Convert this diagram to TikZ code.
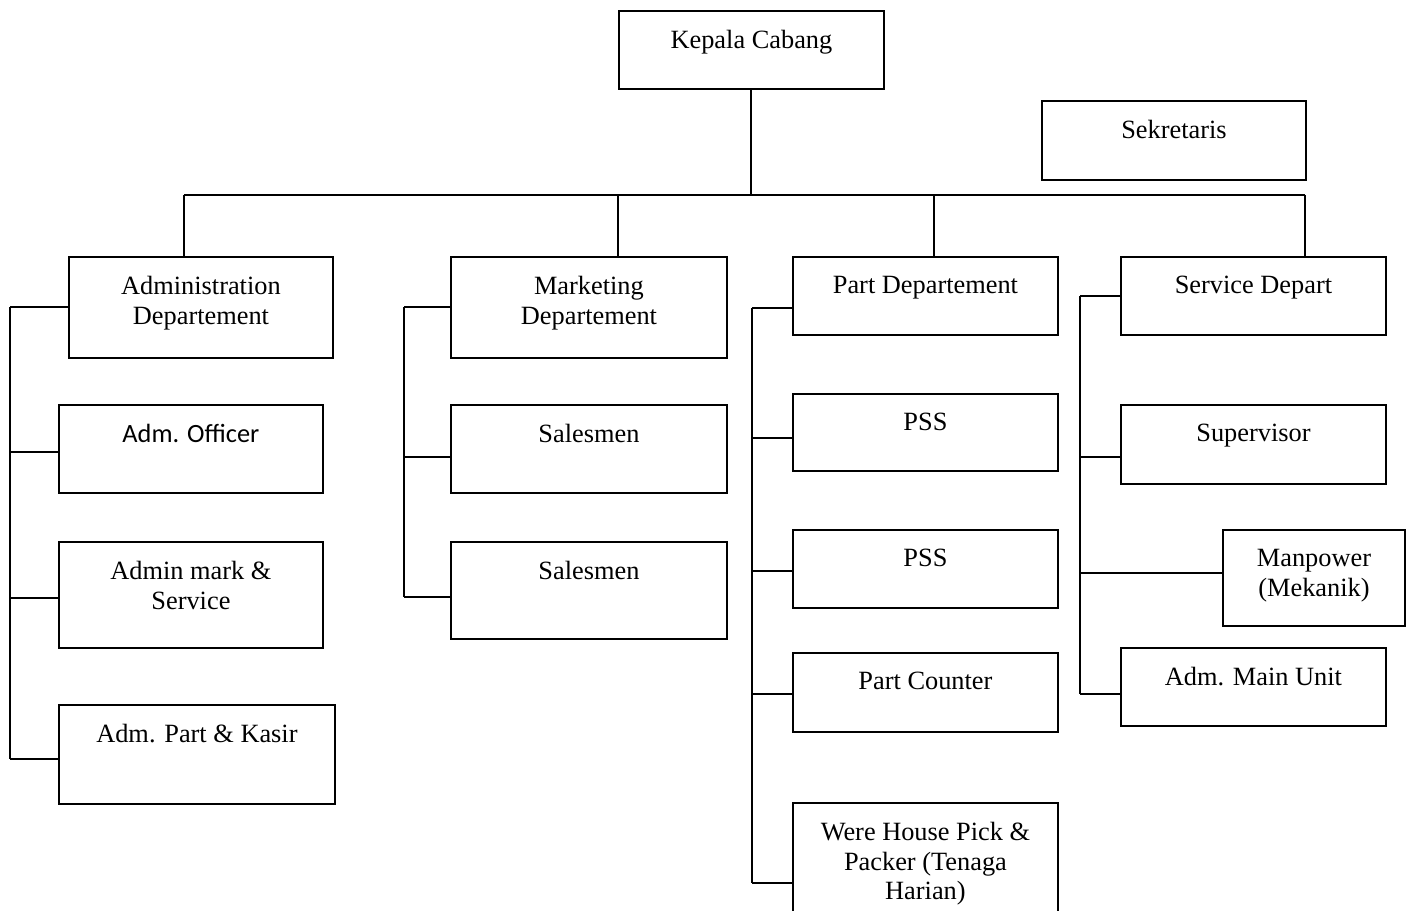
\documentclass[tikz,border=0pt]{standalone}
\usepackage{fontspec}
\setmainfont{Liberation Serif}
\newfontfamily\officefont{Carlito}
\usetikzlibrary{positioning}

\begin{document}
\begin{tikzpicture}[x=0.02cm,y=-0.02cm,line width=1.1pt,
    box/.style={draw,anchor=north west,inner sep=0pt},
    lbl/.style={inner sep=0pt,align=center,font=\fontsize{15}{17}\selectfont}]
                \useasboundingbox (0,0) rectangle (1413,911);
                \foreach \n/\x/\y/\w/\h in {kc/618/10/5.30cm/1.56cm, sek/1041/100/5.28cm/1.58cm,
                    adm/68/256/5.28cm/2.02cm, mkt/450/256/5.52cm/2.02cm, prt/792/256/5.30cm/1.56cm,
                    svc/1120/256/5.30cm/1.56cm, ao/58/404/5.28cm/1.76cm, ams/58/541/5.28cm/2.12cm,
                    apk/58/704/5.52cm/1.98cm, sl1/450/404/5.52cm/1.76cm, sl2/450/541/5.52cm/1.94cm,
                    pss1/792/393/5.30cm/1.54cm, pss2/792/529/5.30cm/1.56cm, pc/792/652/5.30cm/1.58cm,
                    wh/792/802/5.30cm/3.20cm, sup/1120/404/5.30cm/1.58cm, mp/1222/529/3.64cm/1.92cm,
                    amu/1120/647/5.30cm/1.56cm}
                    \node[box,minimum width=\w,minimum height=\h] (\n) at (\x,\y) {};
                \foreach \n/\t in {kc/{Kepala Cabang}, sek/{Sekretaris},
                    adm/{Administration\\Departement}, mkt/{Marketing\\Departement},
                    prt/{Part Departement}, svc/{Service Depart}, ao/{\officefont Adm. Officer},
                    ams/{Admin mark \&\\Service}, apk/{Adm. Part \& Kasir}, sl1/{Salesmen},
                    sl2/{Salesmen}, pss1/{PSS}, pss2/{PSS}, pc/{Part Counter},
                    wh/{Were House Pick \&\\Packer (Tenaga\\Harian)}, sup/{Supervisor},
                    mp/{Manpower\\(Mekanik)}, amu/{Adm. Main Unit}}
                    \node[lbl,below=0.38cm of \n.north] (\n T) {\t};
                \coordinate (busL) at (184,195);
                \coordinate (busR) at (1305,195);
                \draw (busL) -- (busR);
                \draw (kc.south) -- (kc.south |- busL);
                \foreach \n/\x in {adm/184,mkt/618,prt/934,svc/1305}
                    \draw (\x,195) coordinate (d\n) -- (d\n |- \n.north);
                \coordinate (ta) at (10,0);
                \coordinate (tm) at (404,0);
                \coordinate (tp) at (752,0);
                \coordinate (ts) at (1080,0);
                \foreach \n/\s in {adm/0cm,ao/-0.07cm,ams/-0.06cm,apk/-0.1cm}
                    \draw ([yshift=\s]\n.west) coordinate (c\n) -- (c\n -| ta);
                \foreach \n/\s in {mkt/0cm,sl1/-0.16cm,sl2/-0.13cm}
                    \draw ([yshift=\s]\n.west) coordinate (c\n) -- (c\n -| tm);
                \foreach \n/\s in {prt/-0.25cm,pss1/-0.12cm,pss2/-0.04cm,pc/-0.04cm,wh/0cm}
                    \draw ([yshift=\s]\n.west) coordinate (c\n) -- (c\n -| tp);
                \foreach \n/\s in {svc/0cm,sup/-0.25cm,mp/0.09cm,amu/-0.14cm}
                    \draw ([yshift=\s]\n.west) coordinate (c\n) -- (c\n -| ts);
                \draw (cadm -| ta) -- (capk -| ta);
                \draw (cmkt -| tm) -- (csl2 -| tm);
                \draw (cprt -| tp) -- (cwh -| tp);
                \draw (csvc -| ts) -- (camu -| ts);
            \end{tikzpicture}
\end{document}
